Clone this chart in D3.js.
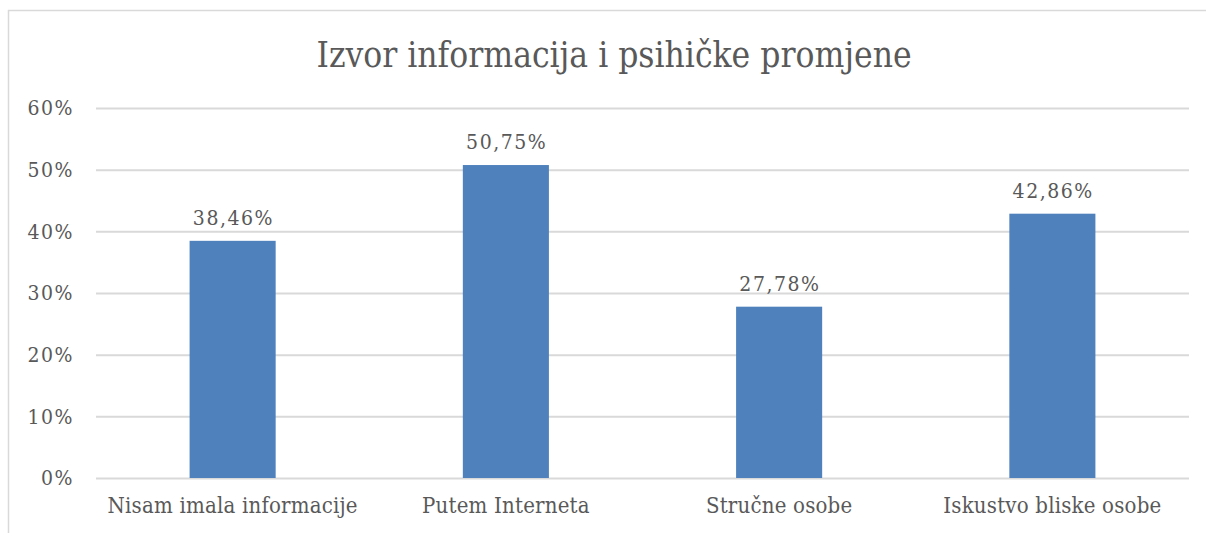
<!DOCTYPE html>
<meta charset="utf-8">
<style>
body { margin: 0; background: #fff; }
text { font-family: "DejaVu Serif", serif; font-stretch: condensed; fill: #595959; }
</style>
<body></body>
<script src="https://d3js.org/d3.v7.min.js"></script>
<script>
const title = 'Izvor informacija i psihičke promjene'
const categories = ['Nisam imala informacije', 'Putem Interneta', 'Stručne osobe', 'Iskustvo bliske osobe']
const values = [0.3846, 0.5075, 0.2778, 0.4286]
const yTicks = [0, 0.1, 0.2, 0.3, 0.4, 0.5, 0.6]

const width = 1206
const height = 533
const plot = { left: 96, right: 1189, top: 108, bottom: 478 }
const font = '"DejaVu Serif", serif'

const svg = d3.select('body')
    .append('svg')
        .attr('width', width)
        .attr('height', height)

// chart frame
svg.append('path')
    .attr('d', `M8.5,${height} V10.5 H${width}`)
    .attr('fill', 'none')
    .attr('stroke', '#d9d9d9')
    .attr('stroke-width', 1.5)

const xScale = d3.scaleBand()
    .domain(categories)
    .range([plot.left, plot.right])
    .paddingInner(0.685)
    .paddingOuter(0.3425)

const yScale = d3.scaleLinear()
    .domain([0, 0.6])
    .range([plot.bottom, plot.top])

const fmt = d => d3.format('.2f')(d * 100).replace('.', ',') + '%'

// gridlines + y labels
const yAxis = d3.axisLeft(yScale)
    .tickValues(yTicks)
    .tickSize(-(plot.right - plot.left))
    .tickPadding(22)
    .tickFormat(d => Math.round(d * 100) + '%')

const gy = svg.append('g')
    .attr('transform', `translate(${plot.left},0)`)
    .call(yAxis)
gy.select('.domain').remove()
gy.selectAll('line').attr('stroke', '#d9d9d9').attr('stroke-width', 2)
gy.selectAll('text')
    .attr('font-family', font)
    .attr('font-size', 21)
    .attr('letter-spacing', 1.5)
    .attr('fill', '#595959')

// x labels
const xAxis = d3.axisBottom(xScale).tickSize(0).tickPadding(19)
const gx = svg.append('g')
    .attr('transform', `translate(0,${plot.bottom})`)
    .call(xAxis)
gx.select('.domain').remove()
gx.selectAll('text')
    .attr('font-family', font)
    .attr('font-size', 22)
    .attr('letter-spacing', 0.2)
    .attr('fill', '#595959')

// bars
svg.selectAll('rect.bar')
    .data(values)
    .enter().append('rect')
        .attr('class', 'bar')
        .attr('x', (d, i) => xScale(categories[i]))
        .attr('y', d => yScale(d))
        .attr('width', xScale.bandwidth())
        .attr('height', d => yScale(0) - yScale(d))
        .attr('fill', '#4f81bd')

// value labels
svg.selectAll('text.val')
    .data(values)
    .enter().append('text')
        .attr('class', 'val')
        .attr('x', (d, i) => xScale(categories[i]) + xScale.bandwidth() / 2 + 0.75)
        .attr('y', d => yScale(d) - 16)
        .attr('text-anchor', 'middle')
        .attr('font-size', 21)
        .attr('letter-spacing', 1.5)
        .text(fmt)

// title
svg.append('text')
    .attr('x', 614)
    .attr('y', 67)
    .attr('text-anchor', 'middle')
    .attr('font-size', 35)
    .text(title)
</script>
